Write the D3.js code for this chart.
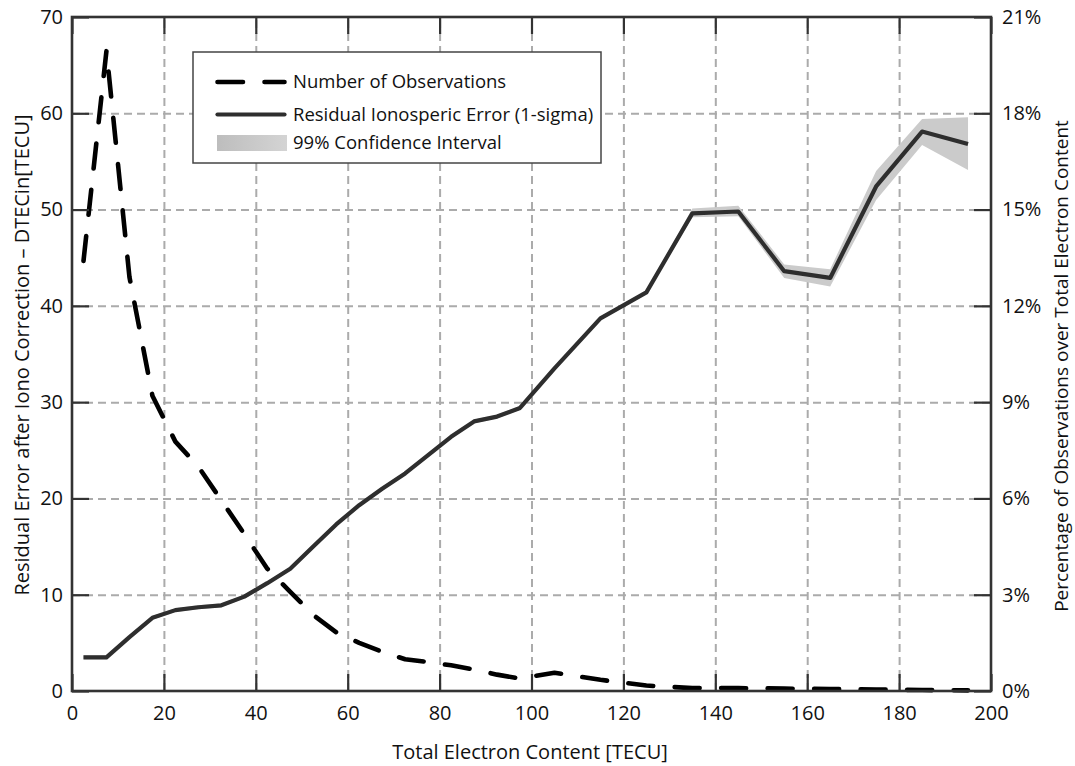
<!DOCTYPE html>
<html><head><meta charset="utf-8">
<script src="https://cdn.jsdelivr.net/npm/d3@7"></script>
<style>
body{margin:0;background:#fff}
text{font-family:"Open Sans",sans-serif;fill:#111}
</style>
</head><body>
<svg id="c" width="1075" height="766"></svg>
<script>
// ---- data ----
const xTicks = [0,20,40,60,80,100,120,140,160,180,200];
const leftTicks = [0,10,20,30,40,50,60,70];
const rightTicks = [0,3,6,9,12,15,18,21];
const binCenters = [2.5,7.5,12.5,17.5,22.5,27.5,32.5,37.5,42.5,47.5,52.5,57.5,62.5,67.5,72.5,77.5,82.5,87.5,92.5,97.5,105,115,125,135,145,155,165,175,185,195];
const residualError = [3.5,3.5,5.6,7.6,8.4,8.7,8.9,9.8,11.2,12.7,15.0,17.3,19.3,21.0,22.6,24.5,26.4,28.0,28.5,29.4,33.5,38.7,41.4,49.6,49.8,43.6,42.9,52.4,58.1,56.8];
const ciLower = [3.3,3.3,5.4,7.4,8.2,8.5,8.7,9.6,11.0,12.5,14.8,17.1,19.1,20.8,22.4,24.3,26.2,27.8,28.3,29.2,33.3,38.5,41.2,49.2,49.3,42.9,42.0,51.0,56.7,54.1];
const ciUpper = [3.7,3.7,5.8,7.8,8.6,8.9,9.1,10.0,11.4,12.9,15.2,17.5,19.5,21.2,22.8,24.7,26.6,28.2,28.7,29.6,33.7,38.9,41.6,50.1,50.4,44.3,43.8,54.0,59.4,59.6];
const obsPercent = [13.4,19.95,12.9,9.2,7.77,6.99,5.94,4.89,3.81,3.09,2.37,1.83,1.5,1.22,0.99,0.9,0.8,0.67,0.51,0.39,0.57,0.35,0.17,0.09,0.09,0.075,0.06,0.045,0.03,0.02];
const legendLabels = ["Number of Observations","Residual Ionosperic Error (1-sigma)","99% Confidence Interval"];
const xTitle = "Total Electron Content [TECU]";
const yLeftTitle = "Residual Error after Iono Correction \u2013 DTECin[TECU]";
const yRightTitle = "Percentage of Observations over Total Electron Content";

// ---- layout ----
const L = 72, R = 991, T = 17, B = 691;
const svg = d3.select("#c");
const x = d3.scaleLinear().domain([0,200]).range([L,R]);
const yL = d3.scaleLinear().domain([0,70]).range([B,T]);
const yR = d3.scaleLinear().domain([0,21]).range([B,T]);
const W = R-L, H = B-T;
const gridColor = "#ababab", axisColor = "#333";

// grid
svg.append("g").attr("transform",`translate(0,${B})`)
  .call(d3.axisBottom(x).tickValues(xTicks.slice(1,-1)).tickSize(-H).tickFormat(""))
  .call(g=>g.select(".domain").remove())
  .call(g=>g.selectAll("line").attr("stroke",gridColor).attr("stroke-width",2).attr("stroke-dasharray","8,5"));
svg.append("g").attr("transform",`translate(${L},0)`)
  .call(d3.axisLeft(yL).tickValues(leftTicks.slice(1,-1)).tickSize(-W).tickFormat(""))
  .call(g=>g.select(".domain").remove())
  .call(g=>g.selectAll("line").attr("stroke",gridColor).attr("stroke-width",2).attr("stroke-dasharray","8,5"));

const pts = binCenters.map((c,i)=>({c, v:residualError[i], lo:ciLower[i], hi:ciUpper[i], p:obsPercent[i]}));

// CI band
svg.append("path").datum(pts)
  .attr("d", d3.area().x(d=>x(d.c)).y0(d=>yL(d.lo)).y1(d=>yL(d.hi)))
  .attr("fill","#cbcbcb");

// residual line
svg.append("path").datum(pts)
  .attr("d", d3.line().x(d=>x(d.c)).y(d=>yL(d.v)))
  .attr("fill","none").attr("stroke","#2e2e2e").attr("stroke-width",4.2).attr("stroke-linejoin","round");

// observations dashed line
svg.append("path").datum(pts)
  .attr("d", d3.line().x(d=>x(d.c)).y(d=>yR(d.p)))
  .attr("fill","none").attr("stroke","#000").attr("stroke-width",4.6)
  .attr("stroke-dasharray","25,21.5").attr("stroke-linecap","round").attr("stroke-linejoin","round");

// axes
const tickLen = 17;
function styleAxis(g){
  g.select(".domain").remove();
  g.selectAll(".tick line").attr("stroke",axisColor).attr("stroke-width",2.2);
  g.selectAll(".tick text").style("font-size","20px").attr("fill","#111");
}
svg.append("g").attr("transform",`translate(0,${B})`)
  .call(d3.axisBottom(x).tickValues(xTicks).tickSizeInner(-tickLen).tickSizeOuter(0).tickPadding(15).tickFormat(d3.format("d")))
  .call(styleAxis);
svg.append("g").attr("transform",`translate(0,${T})`)
  .call(d3.axisTop(x).tickValues(xTicks).tickSizeInner(-tickLen).tickSizeOuter(0).tickFormat(""))
  .call(styleAxis);
svg.append("g").attr("transform",`translate(${L},0)`)
  .call(d3.axisLeft(yL).tickValues(leftTicks).tickSizeInner(-tickLen).tickSizeOuter(0).tickPadding(9).tickFormat(d3.format("d")))
  .call(styleAxis);
svg.append("g").attr("transform",`translate(${R},0)`)
  .call(d3.axisRight(yR).tickValues(rightTicks).tickSizeInner(-tickLen).tickSizeOuter(0).tickPadding(11).tickFormat(d=>d+"%"))
  .call(styleAxis);

// box
svg.append("rect").attr("x",L).attr("y",T).attr("width",W).attr("height",H)
  .attr("fill","none").attr("stroke",axisColor).attr("stroke-width",2.6);

// titles
svg.append("text").attr("x",530).attr("y",759).attr("text-anchor","middle").style("font-size","20px").text(xTitle);
svg.append("text").attr("transform",`translate(29,${355}) rotate(-90)`).attr("text-anchor","middle").style("font-size","20px").text(yLeftTitle);
svg.append("text").attr("transform",`translate(1068,${366}) rotate(-90)`).attr("text-anchor","middle").style("font-size","19px").text(yRightTitle);

// legend
const lg = svg.append("g");
lg.append("rect").attr("x",193).attr("y",52).attr("width",408).attr("height",111)
  .attr("fill","#fff").attr("stroke","#444").attr("stroke-width",1.5);
const defs = svg.append("defs");
const grad = defs.append("linearGradient").attr("id","pg");
grad.append("stop").attr("offset","0%").attr("stop-color","#bdbdbd");
grad.append("stop").attr("offset","100%").attr("stop-color","#d4d4d4");
const rowY = [82,114.5,143];
lg.append("line").attr("x1",217.5).attr("x2",284.5).attr("y1",rowY[0]).attr("y2",rowY[0])
  .attr("stroke","#000").attr("stroke-width",4.6).attr("stroke-dasharray","25.5,21.5").attr("stroke-linecap","round");
lg.append("line").attr("x1",217.5).attr("x2",284.5).attr("y1",rowY[1]).attr("y2",rowY[1])
  .attr("stroke","#2e2e2e").attr("stroke-width",4.2).attr("stroke-linecap","round");
lg.append("rect").attr("x",217).attr("y",rowY[2]-8).attr("width",70).attr("height",16).attr("fill","url(#pg)");
legendLabels.forEach((t,i)=>{
  lg.append("text").attr("x",293).attr("y",rowY[i]).attr("dy","0.35em").style("font-size","18.5px").text(t);
});
</script>
</body></html>
